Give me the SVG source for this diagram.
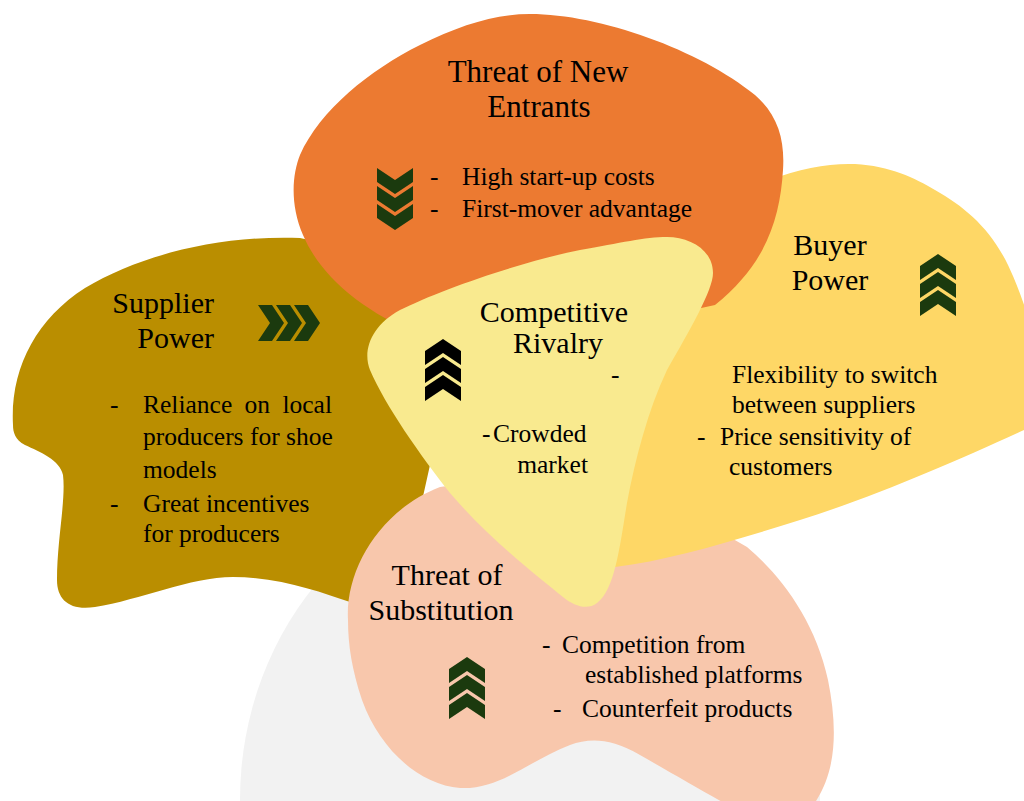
<svg xmlns="http://www.w3.org/2000/svg" xmlns:xlink="http://www.w3.org/1999/xlink" width="1024" height="801" viewBox="0 0 1024 801">
<style>
  text { font-family: "Liberation Serif", "Times New Roman", serif; fill: #000; }
  .title { font-size: 30px; }
  .title31 { font-size: 31px; }
  .body { font-size: 25.5px; }
  .mid { text-anchor: middle; }
  .end { text-anchor: end; }
  .green { fill: #1B3A0E; }
  .black { fill: #000; }
</style>
<defs>
  <g id="chev3">
    <path d="M0,12 L18,0 L36,12 L36,26 L18,14 L0,26 Z"/>
    <path d="M0,30 L18,18 L36,30 L36,44 L18,32 L0,44 Z"/>
    <path d="M0,48 L18,36 L36,48 L36,62 L18,50 L0,62 Z"/>
  </g>
</defs>
<rect width="1024" height="801" fill="#FFFFFF"/>
<g id="watermark">
  <ellipse cx="530" cy="800" rx="290" ry="320" fill="#F2F2F2"/>
</g>
<g id="supplier-power">
  <path d="M13,425 C10,370 35,320 85,288 C140,255 220,235 300,238 L400,260 L440,420 L400,600 L350,602 C320,592 280,577 233,577 C190,577 140,600 95,607 C70,611 57,600 57,580 C57,540 66,500 63,475 C60,460 40,452 25,445 C15,440 13,432 13,425 Z" fill="#BA8E00"/>
  <text class="title end" x="214" y="313">Supplier</text>
  <text class="title end" x="214" y="348">Power</text>
  <use xlink:href="#chev3" class="green" transform="translate(320,305) rotate(90)"/>
  <text class="body" x="110" y="413">-</text>
  <text class="body" x="143" y="413" word-spacing="6">Reliance on local</text>
  <text class="body" x="143" y="445">producers for shoe</text>
  <text class="body" x="143" y="478">models</text>
  <text class="body" x="110" y="512">-</text>
  <text class="body" x="143" y="512">Great incentives</text>
  <text class="body" x="143" y="542">for producers</text>
</g>
<g id="threat-of-substitution">
  <path d="M348,620 C345,570 380,510 440,487 L560,470 L700,520 L747,547 C780,575 815,620 828,680 C838,730 838,780 805,815 L745,815 C710,795 680,778 640,755 C610,738 590,738 570,745 C530,760 500,790 460,788 C420,785 380,750 362,700 C352,670 348,645 348,620 Z" fill="#F8C7AC"/>
  <text class="title mid" x="447" y="585">Threat of</text>
  <text class="title mid" x="441" y="620">Substitution</text>
  <use xlink:href="#chev3" class="green" transform="translate(449,657)"/>
  <text class="body" x="542" y="653">-</text>
  <text class="body" x="562" y="653">Competition from</text>
  <text class="body" x="585" y="683">established platforms</text>
  <text class="body" x="553" y="717">-</text>
  <text class="body" x="582" y="717">Counterfeit products</text>
</g>
<g id="buyer-power">
  <path d="M770,180 C800,168 830,163 855,164 C890,166 915,178 935,190 C965,207 990,228 1008,265 C1020,290 1027,315 1035,335 L1035,425 C970,455 880,495 800,520 C730,542 670,560 615,567 L600,420 L700,300 Z" fill="#FED766"/>
  <text class="title mid" x="830" y="255">Buyer</text>
  <text class="title mid" x="830" y="290">Power</text>
  <use xlink:href="#chev3" class="green" transform="translate(920,254)"/>
  <text class="body" x="732" y="383">Flexibility to switch</text>
  <text class="body" x="732" y="413">between suppliers</text>
  <text class="body" x="697" y="445">-</text>
  <text class="body" x="720" y="445">Price sensitivity of</text>
  <text class="body" x="729" y="475">customers</text>
</g>
<g id="threat-of-new-entrants">
  <path d="M530,14 C600,14 700,50 755,95 C778,115 785,140 783,170 C780,220 765,265 715,305 L600,330 L420,335 C360,310 320,275 303,235 C290,205 292,175 300,155 C320,110 370,70 420,45 C460,25 495,14 530,14 Z" fill="#EC7A31"/>
  <text class="title31 mid" x="538" y="82">Threat of New</text>
  <text class="title31 mid" x="539" y="117">Entrants</text>
  <use xlink:href="#chev3" class="green" transform="translate(377,230) scale(1,-1)"/>
  <text class="body" x="430" y="185">-</text>
  <text class="body" x="462" y="185">High start-up costs</text>
  <text class="body" x="430" y="217">-</text>
  <text class="body" x="462" y="217">First-mover advantage</text>
</g>
<g id="competitive-rivalry">
  <path d="M667,237 C690,237 713,250 713,273 C713,290 690,330 667,370 C648,410 635,460 627,503 C620,545 615,590 597,603 C588,610 575,607 563,597 C540,578 490,540 450,493 C420,455 385,405 370,370 C362,350 372,325 400,310 C440,290 520,262 580,250 C620,243 645,237 667,237 Z" fill="#F9EA8F"/>
  <text class="title mid" x="554" y="322">Competitive</text>
  <text class="title mid" x="558" y="353">Rivalry</text>
  <use xlink:href="#chev3" class="black" transform="translate(425,339)"/>
  <text class="body" x="482" y="442">-</text>
  <text class="body" x="493" y="442">Crowded</text>
  <text class="body end" x="588" y="473">market</text>
  <text class="body" x="611" y="383">-</text>
</g>
<g id="connectors"/>
</svg>
